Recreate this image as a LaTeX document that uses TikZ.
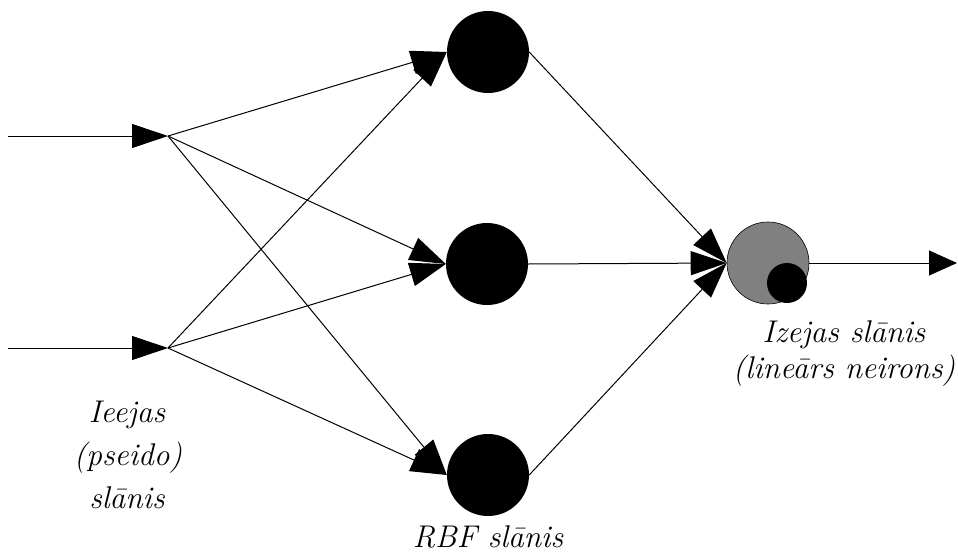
\documentclass[tikz,border=0pt]{standalone}
\usepackage{fontspec}
\usetikzlibrary{arrows.meta}
\begin{document}
\begin{tikzpicture}[x=1pt,y=-1pt,
  conn/.style={line width=1pt, -{Triangle[length=36pt,width=24pt]}},
  outconn/.style={line width=1pt, -{Triangle[length=28pt,width=25pt]}},
  rbf/.style={circle, inner sep=0pt, minimum size=82pt, fill=black},
  lin/.style={circle, inner sep=0pt, minimum size=82pt, fill=black!50, draw=black, line width=0.6pt},
  bias/.style={circle, inner sep=0pt, minimum size=40pt, fill=black},
  lbl/.style={anchor=base, inner sep=0pt,
    font=\fontsize{31.4}{36}\selectfont\itshape\addfontfeature{FakeBold=1.2}}]
\useasboundingbox[fill=white] (0,0) rectangle (958,554);

% RBF layer
\node[rbf] (r1) at (488,52) {};
\node[rbf] (r2) at (487,264) {};
\node[rbf] (r3) at (488,475) {};

% linear output neuron
\node[lin] (o) at (768,263) {};
\node[bias] (ob) at (787,283) {};

% input (pseudo) layer
\coordinate (s1) at (8,136);
\coordinate (i1) at (168,136);
\coordinate (s2) at (8,348);
\coordinate (i2) at (168,348);
\coordinate (y) at (957,263);

\draw[conn] (s1) -- (i1);
\draw[conn] (s2) -- (i2);

\foreach \r in {r1,r2,r3} {
  \draw[conn] (i1) -- (\r.west);
  \draw[conn] (i2) -- (\r.west);
  \draw[conn] (\r.east) -- (o.west);
}
\draw[outconn] (o.east) -- (y);

% labels
\node[lbl] (l1) at (127,422) {Ieejas};
\node[lbl] (l2) at (128,465) {(pseido)};
\node[lbl] (l3) at (127,508) {slānis};
\node[lbl] (l4) at (488,547) {RBF slānis};
\node[lbl] (l5) at (844,342) {Izejas slānis};
\node[lbl] (l6) at (844,378) {(lineārs neirons)};
\end{tikzpicture}
\end{document}
